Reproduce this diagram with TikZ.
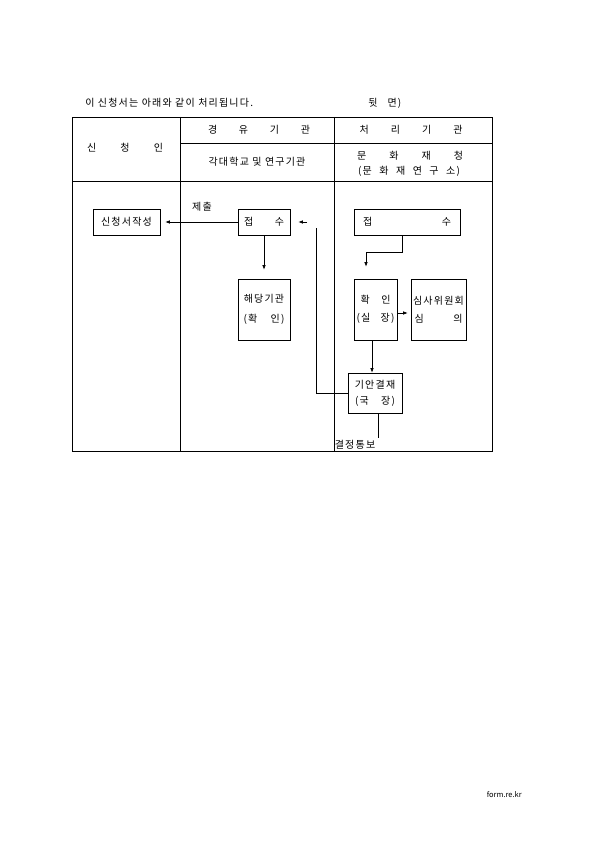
\documentclass[tikz,border=0pt]{standalone}
\usepackage{fontspec}
\setmainfont[LetterSpace=12]{Noto Sans CJK KR}
\newfontfamily\footfont{Noto Sans CJK KR}
\usetikzlibrary{arrows.meta}
\begin{document}
\begin{tikzpicture}[x=1pt,y=-1pt,line width=0.6pt,
  box/.style={draw,line width=0.6pt,inner sep=0pt,align=center},
  txt/.style={inner sep=0pt,font=\fontsize{10}{11}\selectfont},
  arr/.style={-{Latex[length=4.5pt,width=3.5pt]}}]
\useasboundingbox (0,0) rectangle (595,842);
% title
\node[txt,anchor=west] (title) at (85,103) {이 신청서는 아래와 같이 처리됩니다.};
\node[txt,anchor=west] (back) at (368,103) {뒷\hspace{10pt}면)};
% table
\draw (72,117) rectangle (492,451);
\coordinate (c2t) at (180,117); \coordinate (c2b) at (180,451);
\coordinate (c3t) at (334,117); \coordinate (c3b) at (334,451);
\draw (c2t) -- (c2b);
\draw (c3t) -- (c3b);
\draw (180,143) -- (492,143);
\draw (72,181) -- (492,181);
% header texts
\node[txt] (h1) at (125,148) {\makebox[76pt]{신\hfill 청\hfill 인}};
\node[txt] (h2) at (259,130) {\makebox[102pt]{경\hfill 유\hfill 기\hfill 관}};
\node[txt] (h3) at (411,130) {\makebox[103pt]{처\hfill 리\hfill 기\hfill 관}};
\node[txt] (h4) at (257,162) {각대학교 및 연구기관};
\node[txt] (h5) at (410,156) {\makebox[106pt]{문\hfill 화\hfill 재\hfill 청}};
\node[txt] (h6) at (409,171) {\makebox[102pt]{(문\hfill 화\hfill 재\hfill 연\hfill 구\hfill 소)}};
% boxes
\node[box,txt,minimum width=67pt,minimum height=26pt] (sin) at (126.5,222) {신청서작성};
\node[box,txt,minimum width=52pt,minimum height=26pt] (jeop2) at (264,222) {\makebox[40pt]{접\hfill 수}};
\node[box,txt,minimum width=52pt,minimum height=61pt,font=\fontsize{10}{20}\selectfont] (hae) at (264,309.5) {해당기관\\\makebox[41pt]{(확\hfill 인)}};
\node[box,txt,minimum width=106pt,minimum height=26pt] (jeop3) at (407,222) {\makebox[88pt]{접\hfill 수}};
\node[box,txt,minimum width=43pt,minimum height=61pt,font=\fontsize{10}{18}\selectfont] (hwak) at (375.5,309.5) {\makebox[30pt]{확\hfill 인}\\\makebox[38pt]{(실\hfill 장)}};
\node[box,txt,minimum width=55pt,minimum height=61pt,font=\fontsize{10}{18}\selectfont] (sim) at (438.5,309.5) {심사위원회\\\makebox[48pt]{심\hfill 의}};
\node[box,txt,minimum width=54pt,minimum height=40pt,font=\fontsize{10}{16}\selectfont] (gian) at (375,393) {기안결재\\\makebox[40pt]{(국\hfill 장)}};
% labels
\node[txt] (jechul) at (202,207) {제출};
\node[txt] (tongbo) at (355,445) {결정통보};
\node[inner sep=0pt,font=\footfont\fontsize{7.5}{9}\selectfont,anchor=east] (foot) at (522,795) {form.re.kr};
% connectors
\draw[arr,shorten >=5pt] (jeop2.west) -- (sin.east);
\draw[arr,shorten >=9pt] (jeop2.south) -- (hae.north);
\coordinate (r1) at (316,228);
\coordinate (r2) at (307,222);
\draw (gian.west) -- (gian.west -| r1) -- (r1);
\draw[arr,shorten >=8pt] (r2) -- (jeop2.east |- r2);
\coordinate (k1) at (402,252);
\coordinate (k2) at (366,252);
\draw[arr,shorten >=12pt] (jeop3.south -| k1) -- (k1) -- (k2) -- (k2 |- hwak.north);
\coordinate (hh) at (0,313);
\draw[arr,shorten >=3pt] (hwak.east |- hh) -- (sim.west |- hh);
\coordinate (v) at (372,0);
\draw[arr] (hwak.south -| v) -- (gian.north -| v);
\coordinate (e1) at (378,438);
\draw (gian.south -| e1) -- (e1);
\end{tikzpicture}
\end{document}
